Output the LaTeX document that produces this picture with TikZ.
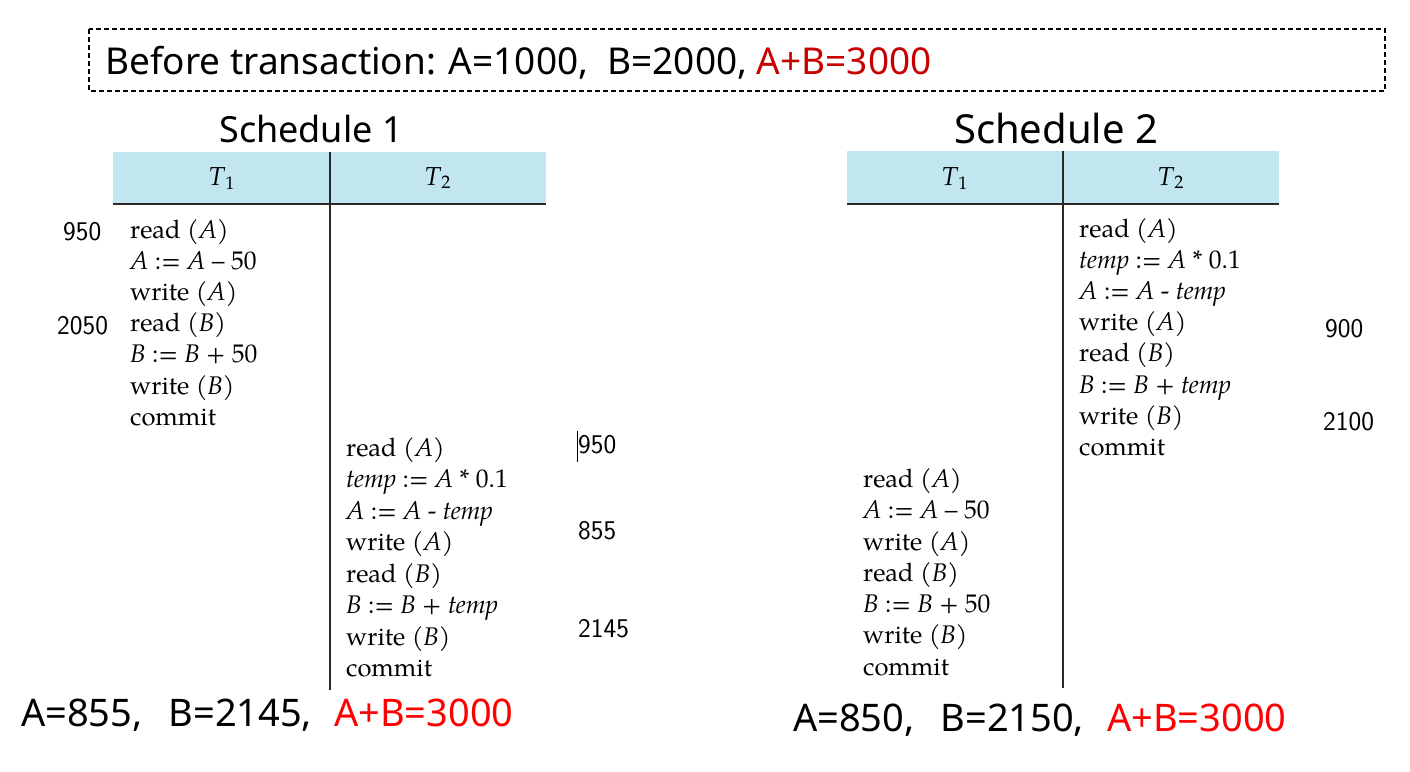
\documentclass[tikz,border=0pt]{standalone}
\usepackage{fontspec}
\newfontfamily\uisans{Noto Sans}
\newfontfamily\opserif[Ligatures=TeX]{TeX Gyre Pagella}
\usetikzlibrary{positioning}
\definecolor{hdrblue}{RGB}{194,230,240}
\definecolor{sumred}{RGB}{200,0,0}
\definecolor{resred}{RGB}{255,0,0}
\definecolor{rulegray}{RGB}{40,40,40}

\begin{document}
\begin{tikzpicture}[x=1pt, y=-1pt,
	op/.style={anchor=base west, inner sep=0pt, font=\opserif\fontsize{25.5}{30}\selectfont},
	val/.style={anchor=base west, inner sep=0pt, font=\sffamily\fontsize{27}{30}\selectfont},
	big/.style={anchor=base west, inner sep=0pt, font=\uisans\fontsize{38}{44}\selectfont},
	title/.style={anchor=base, inner sep=0pt},
	hdr/.style={anchor=base, inner sep=0pt, font=\opserif\fontsize{26}{30}\selectfont}]
	\useasboundingbox (0,0) rectangle (1410,771);
	% top box
	\draw[line width=1.5pt, dash pattern=on 5pt off 3pt] (89,29) rectangle (1385,91);
	\node[big, font=\uisans\fontsize{37}{44}\selectfont] (before) at (105,74)
		{Before transaction: A=1000,\ \ B=2000, \textcolor{sumred}{A+B=3000}};
	% titles
	\node[title, font=\uisans\fontsize{36}{42}\selectfont] (sched1) at (311,142) {Schedule 1};
	\node[title, font=\uisans\fontsize{40}{46}\selectfont] (sched2) at (1056,143) {Schedule 2};
	% table heads
	\fill[hdrblue] (113,152) rectangle (546,204);
	\fill[hdrblue] (847,151) rectangle (1279,204);
	\draw[rulegray, line width=2.5pt] (113,204) -- (546,204);
	\draw[rulegray, line width=2.5pt] (847,204) -- (1279,204);
	\draw[rulegray, line width=2pt] (330,152) -- (330,690);
	\draw[rulegray, line width=2pt] (1063,151) -- (1063,688);
	\node[hdr] (s1t1) at (222,185) {\textit{T}\textsubscript{1}};
	\node[hdr] (s1t2) at (438,185) {\textit{T}\textsubscript{2}};
	\node[hdr] (s2t1) at (955,185) {\textit{T}\textsubscript{1}};
	\node[hdr] (s2t2) at (1171,185) {\textit{T}\textsubscript{2}};
	% schedule 1
	\foreach \T [count=\i] in {read (\textit{A}), \textit{A} := \textit{A} – 50, write (\textit{A}),
		read (\textit{B}), \textit{B} := \textit{B} + 50, write (\textit{B}), commit} {
		\node[op] (s1a\i) at (130,{238+31.2*(\i-1)}) {\T};
		}
	\foreach \T [count=\i] in {read (\textit{A}), \textit{temp} := \textit{A} * 0.1, \textit{A} := \textit{A} - \textit{temp},
		write (\textit{A}), read (\textit{B}), \textit{B} := \textit{B} + \textit{temp}, write (\textit{B}), commit} {
		\node[op] (s1b\i) at (346,{456+31.5*(\i-1)}) {\T};
		}
	% schedule 2
	\foreach \T [count=\i] in {read (\textit{A}), \textit{temp} := \textit{A} * 0.1, \textit{A} := \textit{A} - \textit{temp},
		write (\textit{A}), read (\textit{B}), \textit{B} := \textit{B} + \textit{temp}, write (\textit{B}), commit} {
		\node[op] (s2b\i) at (1079,{237+31.2*(\i-1)}) {\T};
		}
	\foreach \T [count=\i] in {read (\textit{A}), \textit{A} := \textit{A} – 50, write (\textit{A}),
		read (\textit{B}), \textit{B} := \textit{B} + 50, write (\textit{B}), commit} {
		\node[op] (s2a\i) at (863,{487.5+31.25*(\i-1)}) {\T};
		}
	% values
	\node[val] (v950a) at (63,240) {950};
	\node[val] (v2050) at (57,334) {2050};
	\node[val] (v950b) at (578,453) {950};
	\draw[line width=0.8pt] (577,431) -- (577,462);
	\node[val] (v855) at (578,539) {855};
	\node[val] (v2145) at (578,637) {2145};
	\node[val] (v900) at (1325,337) {900};
	\node[val] (v2100) at (1323,430) {2100};
	% results
	\node[big] (res1) at (21,726) {A=855,\hspace{26pt}B=2145,\hspace{22pt}\textcolor{resred}{A+B=3000}};
	\node[big] (res2) at (793,731) {A=850,\hspace{26pt}B=2150,\hspace{23pt}\textcolor{resred}{A+B=3000}};
\end{tikzpicture}
\end{document}
